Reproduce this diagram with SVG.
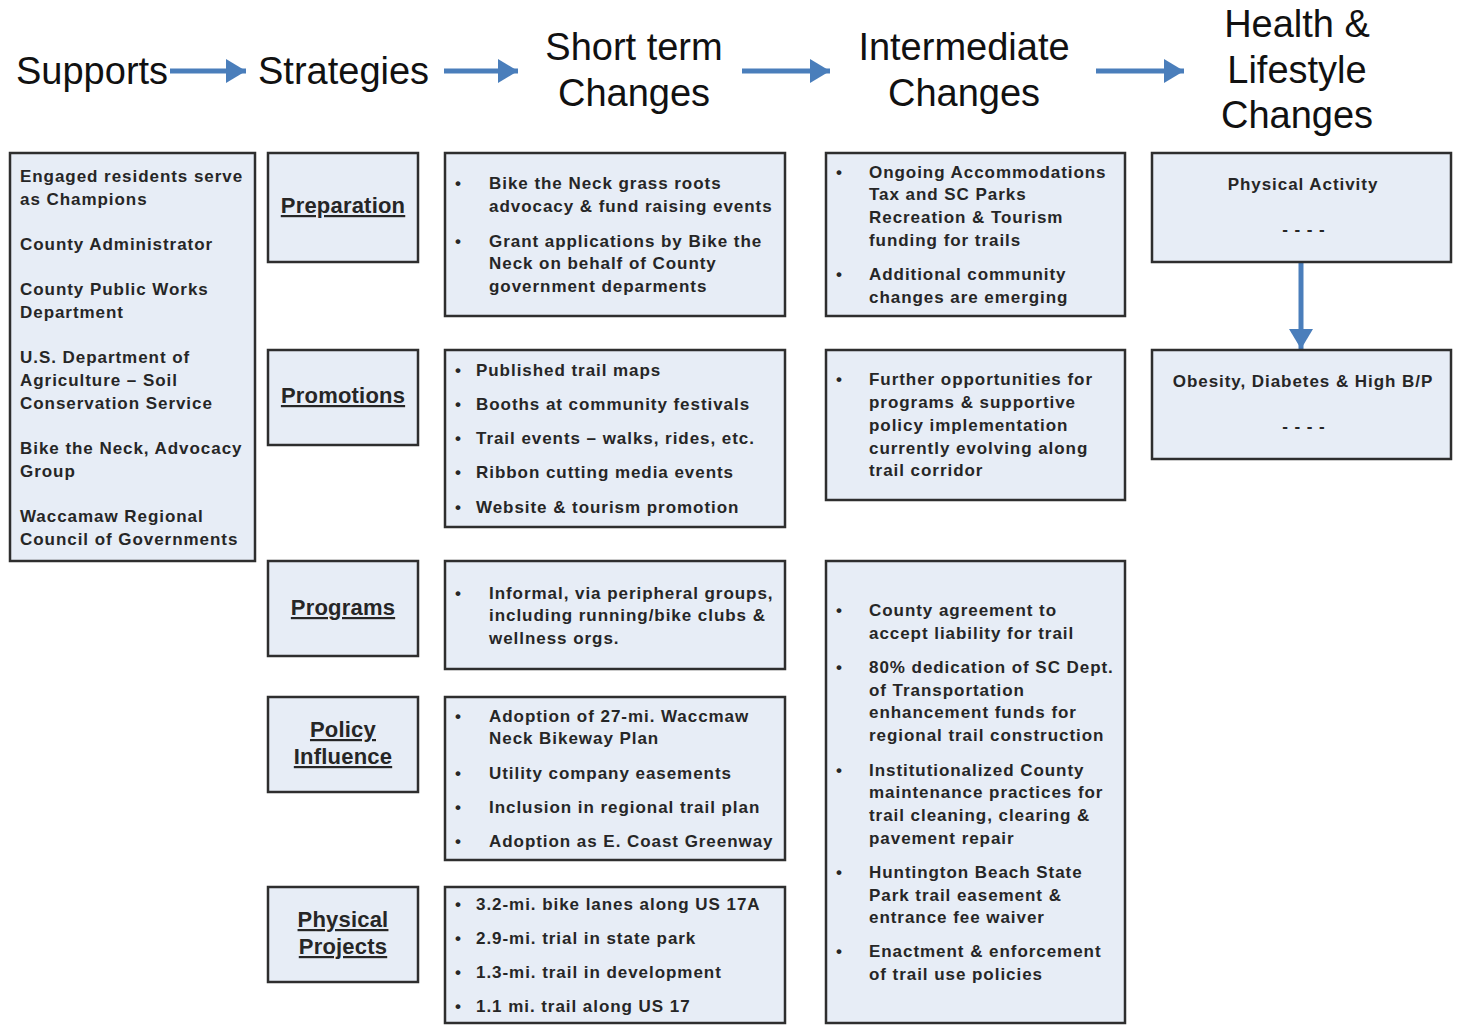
<svg xmlns="http://www.w3.org/2000/svg" width="1458" height="1026" viewBox="0 0 1458 1026">
<style>
.bg{fill:#ffffff}
.box{fill:#e7edf6;stroke:#2e2e2e;stroke-width:2.5}
.hd{font-family:"Liberation Sans",Arial,sans-serif;font-size:38px;fill:#111}
.t{font-family:"Liberation Sans",Arial,sans-serif;font-size:17px;font-weight:bold;fill:#262626;letter-spacing:0.95px}
.st{font-family:"Liberation Sans",Arial,sans-serif;font-size:22px;font-weight:bold;fill:#262626;text-decoration:underline;letter-spacing:0.2px}
.c{text-anchor:middle}
.conn{stroke:#4a7ebb;stroke-width:5;fill:none}
</style>
<defs>
<marker id="ah" markerUnits="userSpaceOnUse" markerWidth="22" markerHeight="24" refX="20" refY="12" orient="auto">
<path d="M0,0 L20,12 L0,24 Z" fill="#4a7ebb"/>
</marker>
</defs>
<rect class="bg" width="1458" height="1026"/>

<g id="headers">
<text class="hd" x="16" y="84">Supports</text>
<text class="hd" x="258" y="84">Strategies</text>
<text class="hd c" x="634" y="60">Short term</text>
<text class="hd c" x="634" y="106">Changes</text>
<text class="hd c" x="964" y="60">Intermediate</text>
<text class="hd c" x="964" y="106">Changes</text>
<text class="hd c" x="1297" y="37">Health &amp;</text>
<text class="hd c" x="1297" y="83">Lifestyle</text>
<text class="hd c" x="1297" y="128">Changes</text>
</g>

<g id="connectors">
<line class="conn" x1="170" y1="71" x2="246" y2="71" marker-end="url(#ah)"/>
<line class="conn" x1="444" y1="71" x2="518" y2="71" marker-end="url(#ah)"/>
<line class="conn" x1="742" y1="71" x2="830" y2="71" marker-end="url(#ah)"/>
<line class="conn" x1="1096" y1="71" x2="1184" y2="71" marker-end="url(#ah)"/>
<line class="conn" x1="1301" y1="263" x2="1301" y2="349" marker-end="url(#ah)"/>
</g>

<g id="supports">
<rect class="box" x="10" y="153" width="245" height="408"/>
<text class="t" x="20" y="182">Engaged residents serve</text>
<text class="t" x="20" y="205">as Champions</text>
<text class="t" x="20" y="250">County Administrator</text>
<text class="t" x="20" y="295">County Public Works</text>
<text class="t" x="20" y="318">Department</text>
<text class="t" x="20" y="363">U.S. Department of</text>
<text class="t" x="20" y="386">Agriculture – Soil</text>
<text class="t" x="20" y="409">Conservation Service</text>
<text class="t" x="20" y="454">Bike the Neck, Advocacy</text>
<text class="t" x="20" y="477">Group</text>
<text class="t" x="20" y="522">Waccamaw Regional</text>
<text class="t" x="20" y="545">Council of Governments</text>
</g>

<g id="preparation">
<rect class="box" x="268" y="153" width="150" height="109"/>
<text class="st c" x="343" y="213">Preparation</text>
</g>
<g id="promotions">
<rect class="box" x="268" y="350" width="150" height="95"/>
<text class="st c" x="343" y="403">Promotions</text>
</g>
<g id="programs">
<rect class="box" x="268" y="561" width="150" height="95"/>
<text class="st c" x="343" y="615">Programs</text>
</g>
<g id="policy-influence">
<rect class="box" x="268" y="697" width="150" height="95"/>
<text class="st c" x="343" y="737">Policy</text>
<text class="st c" x="343" y="764">Influence</text>
</g>
<g id="physical-projects">
<rect class="box" x="268" y="887" width="150" height="95"/>
<text class="st c" x="343" y="927">Physical</text>
<text class="st c" x="343" y="954">Projects</text>
</g>

<g id="st-preparation">
<rect class="box" x="445" y="153" width="340" height="163"/>
<text class="t" x="455" y="189">•</text>
<text class="t" x="489" y="189">Bike the Neck grass roots</text>
<text class="t" x="489" y="212">advocacy &amp; fund raising events</text>
<text class="t" x="455" y="247">•</text>
<text class="t" x="489" y="247">Grant applications by Bike the</text>
<text class="t" x="489" y="269">Neck on behalf of County</text>
<text class="t" x="489" y="292">government deparments</text>
</g>

<g id="st-promotions">
<rect class="box" x="445" y="350" width="340" height="177"/>
<text class="t" x="455" y="376">•</text><text class="t" x="476" y="376">Published trail maps</text>
<text class="t" x="455" y="410">•</text><text class="t" x="476" y="410">Booths at community festivals</text>
<text class="t" x="455" y="444">•</text><text class="t" x="476" y="444">Trail events – walks, rides, etc.</text>
<text class="t" x="455" y="478">•</text><text class="t" x="476" y="478">Ribbon cutting media events</text>
<text class="t" x="455" y="513">•</text><text class="t" x="476" y="513">Website &amp; tourism promotion</text>
</g>

<g id="st-programs">
<rect class="box" x="445" y="561" width="340" height="108"/>
<text class="t" x="455" y="599">•</text>
<text class="t" x="489" y="599">Informal, via peripheral groups,</text>
<text class="t" x="489" y="621">including running/bike clubs &amp;</text>
<text class="t" x="489" y="644">wellness orgs.</text>
</g>

<g id="st-policy">
<rect class="box" x="445" y="697" width="340" height="163"/>
<text class="t" x="455" y="722">•</text>
<text class="t" x="489" y="722">Adoption of 27-mi. Waccmaw</text>
<text class="t" x="489" y="744">Neck Bikeway Plan</text>
<text class="t" x="455" y="779">•</text><text class="t" x="489" y="779">Utility company easements</text>
<text class="t" x="455" y="813">•</text><text class="t" x="489" y="813">Inclusion in regional trail plan</text>
<text class="t" x="455" y="847">•</text><text class="t" x="489" y="847">Adoption as E. Coast Greenway</text>
</g>

<g id="st-physical">
<rect class="box" x="445" y="887" width="340" height="136"/>
<text class="t" x="455" y="910">•</text><text class="t" x="476" y="910">3.2-mi. bike lanes along US 17A</text>
<text class="t" x="455" y="944">•</text><text class="t" x="476" y="944">2.9-mi. trial in state park</text>
<text class="t" x="455" y="978">•</text><text class="t" x="476" y="978">1.3-mi. trail in development</text>
<text class="t" x="455" y="1012">•</text><text class="t" x="476" y="1012">1.1 mi. trail along US 17</text>
</g>

<g id="int-1">
<rect class="box" x="826" y="153" width="299" height="163"/>
<text class="t" x="836" y="178">•</text>
<text class="t" x="869" y="178">Ongoing Accommodations</text>
<text class="t" x="869" y="200">Tax and SC Parks</text>
<text class="t" x="869" y="223">Recreation &amp; Tourism</text>
<text class="t" x="869" y="246">funding for trails</text>
<text class="t" x="836" y="280">•</text>
<text class="t" x="869" y="280">Additional community</text>
<text class="t" x="869" y="303">changes are emerging</text>
</g>

<g id="int-2">
<rect class="box" x="826" y="350" width="299" height="150"/>
<text class="t" x="836" y="385">•</text>
<text class="t" x="869" y="385">Further opportunities for</text>
<text class="t" x="869" y="408">programs &amp; supportive</text>
<text class="t" x="869" y="431">policy implementation</text>
<text class="t" x="869" y="454">currently evolving along</text>
<text class="t" x="869" y="476">trail corridor</text>
</g>

<g id="int-3">
<rect class="box" x="826" y="561" width="299" height="462"/>
<text class="t" x="836" y="616">•</text>
<text class="t" x="869" y="616">County agreement to</text>
<text class="t" x="869" y="639">accept liability for trail</text>
<text class="t" x="836" y="673">•</text>
<text class="t" x="869" y="673">80% dedication of SC Dept.</text>
<text class="t" x="869" y="696">of Transportation</text>
<text class="t" x="869" y="718">enhancement funds for</text>
<text class="t" x="869" y="741">regional trail construction</text>
<text class="t" x="836" y="776">•</text>
<text class="t" x="869" y="776">Institutionalized County</text>
<text class="t" x="869" y="798">maintenance practices for</text>
<text class="t" x="869" y="821">trail cleaning, clearing &amp;</text>
<text class="t" x="869" y="844">pavement repair</text>
<text class="t" x="836" y="878">•</text>
<text class="t" x="869" y="878">Huntington Beach State</text>
<text class="t" x="869" y="901">Park trail easement &amp;</text>
<text class="t" x="869" y="923">entrance fee waiver</text>
<text class="t" x="836" y="957">•</text>
<text class="t" x="869" y="957">Enactment &amp; enforcement</text>
<text class="t" x="869" y="980">of trail use policies</text>
</g>

<g id="physical-activity">
<rect class="box" x="1152" y="153" width="299" height="109"/>
<text class="t c" x="1303" y="190">Physical Activity</text>
<text class="t c" x="1304" y="235">- - - -</text>
</g>
<g id="obesity">
<rect class="box" x="1152" y="350" width="299" height="109"/>
<text class="t c" x="1303" y="387">Obesity, Diabetes &amp; High B/P</text>
<text class="t c" x="1304" y="432">- - - -</text>
</g>
</svg>
